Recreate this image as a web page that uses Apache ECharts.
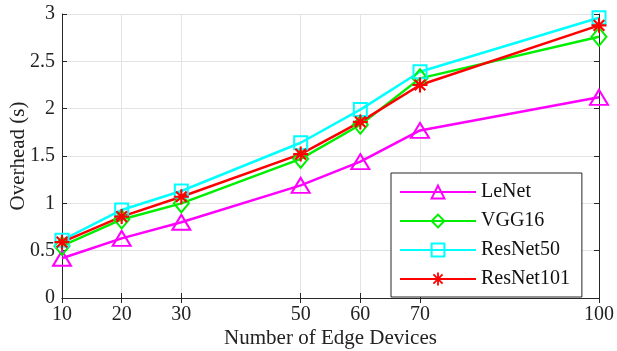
<!DOCTYPE html>
<html>
<head>
<meta charset="utf-8">
<script src="https://cdn.jsdelivr.net/npm/echarts@6/dist/echarts.min.js"></script>
<style>
  html, body { margin: 0; padding: 0; background: #fff; }
  #chart { width: 617px; height: 351px; }
</style>
</head>
<body>
<div id="chart"></div>
<script>
// devices on the x axis
var devices = [10, 20, 30, 50, 60, 70, 100];
var lenet     = [0.42, 0.63, 0.80, 1.19, 1.44, 1.77, 2.12];
var vgg16     = [0.55, 0.83, 1.00, 1.47, 1.83, 2.32, 2.76];
var resnet50  = [0.61, 0.93, 1.13, 1.64, 1.99, 2.39, 2.96];
var resnet101 = [0.59, 0.86, 1.07, 1.52, 1.86, 2.25, 2.88];

var font = 'Liberation Serif';
var axisColor = '#262626';
// matlab style '*' marker (plus + cross)
var star = 'path://M-1.4,-10L1.4,-10L1.4,10L-1.4,10Z M-10,-1.4L10,-1.4L10,1.4L-10,1.4Z ' +
  'M-8.1,-6.1L-6.1,-8.1L8.1,6.1L6.1,8.1Z M6.1,-8.1L8.1,-6.1L-6.1,8.1L-8.1,6.1Z';

function pairs(vals) {
  return devices.map(function (d, i) { return [d, vals[i]]; });
}

function makeSeries(name, vals, color, symbol, size, filled) {
  return {
    name: name,
    type: 'line',
    data: pairs(vals),
    symbol: symbol,
    symbolSize: size,
    showAllSymbol: true,
    lineStyle: { color: color, width: 2.5 },
    itemStyle: filled
      ? { color: color, borderWidth: 0 }
      : { color: 'rgba(0,0,0,0)', borderColor: color, borderWidth: 2 },
    emphasis: { disabled: true },
    z: 3
  };
}

var chart = echarts.init(document.getElementById('chart'));

var xBase = {
  type: 'value', min: 10, max: 100, interval: 10,
  axisLine: { show: true, lineStyle: { color: axisColor, width: 1 } },
  axisTick: { show: true, inside: true, length: 5, customValues: devices,
    lineStyle: { color: axisColor } },
  splitLine: { show: false }
};

var yBase = {
  type: 'value', min: 0, max: 3, interval: 0.5,
  axisLine: { show: true, lineStyle: { color: axisColor, width: 1 } },
  axisTick: { show: true, inside: true, length: 5, lineStyle: { color: axisColor } },
  splitLine: { show: false }
};

var option = {
  animation: false,
  backgroundColor: '#fff',
  grid: { left: 62, right: 18, top: 14, bottom: 53, containLabel: false, outerBoundsMode: 'none' },
  legend: {
    orient: 'vertical',
    left: 391, top: 173,
    padding: [9, 12, 8, 8],
    itemGap: 9,
    itemWidth: 76, itemHeight: 16,
    borderColor: axisColor, borderWidth: 1,
    backgroundColor: '#fff',
    textStyle: { fontFamily: font, fontSize: 20, lineHeight: 16, color: '#111' },
    data: ['LeNet', 'VGG16', 'ResNet50', 'ResNet101']
  },
  xAxis: [
    Object.assign({}, xBase, {
      position: 'bottom',
      name: 'Number of Edge Devices',
      nameLocation: 'middle', nameGap: 30, nameMoveOverlap: false,
      nameTextStyle: { fontFamily: font, fontSize: 21, color: '#222' },
      axisLabel: { customValues: devices, fontFamily: font, fontSize: 20,
        color: '#222', margin: 7 },
      splitLine: { show: true, lineStyle: { color: '#e3e3e3', width: 1 } }
    }),
    Object.assign({}, xBase, { position: 'top', axisLabel: { show: false } })
  ],
  yAxis: [
    Object.assign({}, yBase, {
      position: 'left',
      name: 'Overhead (s)',
      nameLocation: 'middle', nameGap: 33, nameMoveOverlap: false,
      nameTextStyle: { fontFamily: font, fontSize: 21, color: '#222' },
      axisLabel: { fontFamily: font, fontSize: 20, color: '#222', margin: 7 },
      splitLine: { show: true, lineStyle: { color: '#e3e3e3', width: 1 } }
    }),
    Object.assign({}, yBase, { position: 'right', axisLabel: { show: false } })
  ],
  series: [
    makeSeries('LeNet', lenet, '#ff00ff', 'triangle', [18, 15], false),
    makeSeries('VGG16', vgg16, '#00ee00', 'diamond', [15, 18], false),
    makeSeries('ResNet50', resnet50, '#00ffff', 'rect', [13, 13], false),
    makeSeries('ResNet101', resnet101, '#ff0000', star, [15, 15], true)
  ]
};

chart.setOption(option);
</script>
</body>
</html>
